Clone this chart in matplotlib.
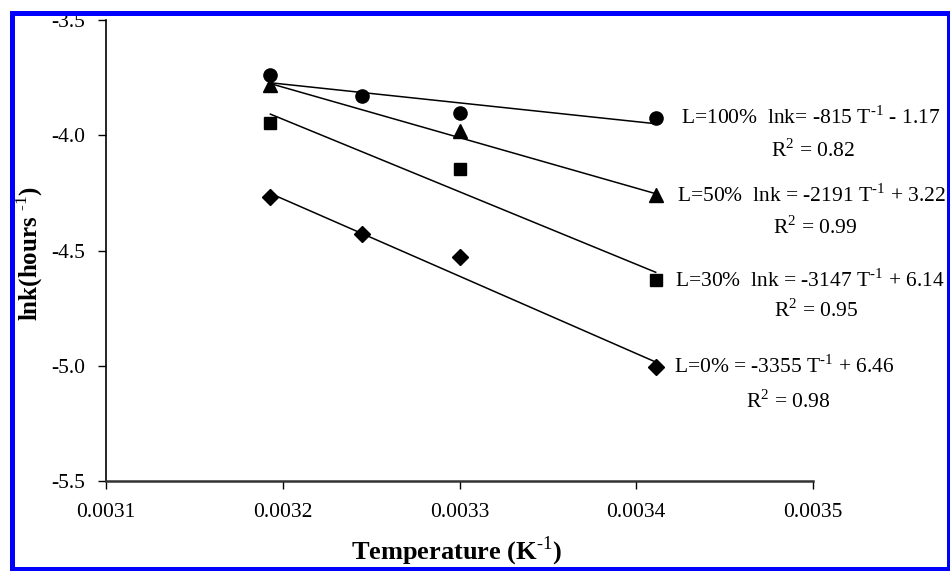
import matplotlib.pyplot as plt
from matplotlib.patches import Rectangle

plt.rcParams['font.family'] = ['Liberation Serif', 'DejaVu Serif']
plt.rcParams['mathtext.fontset'] = 'custom'
plt.rcParams['mathtext.rm'] = 'Liberation Serif'
plt.rcParams['mathtext.bf'] = 'Liberation Serif:bold'

# 1/T values (K^-1)
x_l100 = [0.003193, 0.003245, 0.003300, 0.003411]
y_l100 = [-3.74, -3.83, -3.905, -3.925]
x_l50 = [0.003193, 0.003300, 0.003411]
y_l50 = [-3.78, -3.98, -4.26]
x_l30 = [0.003193, 0.003300, 0.003411]
y_l30 = [-3.945, -4.145, -4.63]
x_l0 = [0.003193, 0.003245, 0.003300, 0.003411]
y_l0 = [-4.27, -4.43, -4.53, -5.005]

# trend line coefficients (slope, intercept) from the labels
fit_l100 = (-815, -1.17)
fit_l50 = (-2191, 3.22)
fit_l30 = (-3147, 6.14)
fit_l0 = (-3355, 6.46)

labels = ['L=100%  lnk= -815 T$^{\\text{-1}}$ - 1.17',
          'L=50%  lnk = -2191 T$^{\\text{-1}}$ + 3.22',
          'L=30%  lnk = -3147 T$^{\\text{-1}}$ + 6.14',
          'L=0% = -3355 T$^{\\text{-1}}$ + 6.46']
r2_labels = ['R$^2$ = 0.82', 'R$^2$ = 0.99', 'R$^2$ = 0.95', 'R$^2$ = 0.98']

fig = plt.figure(figsize=(9.5, 5.71), dpi=100)
ax = fig.add_axes([106 / 950, 1 - 481 / 571, (813 - 106) / 950, (481 - 20) / 571])

series = [(x_l100, y_l100, fit_l100, 'o', 9.5),
          (x_l50, y_l50, fit_l50, '^', 10),
          (x_l30, y_l30, fit_l30, 's', 9),
          (x_l0, y_l0, fit_l0, 'D', 8)]
label_dx = [25, 21, 19, 18]
r2_offsets = [(115, -33), (117, -32), (118, -30), (90, -35)]

for i, (xs, ys, fit, m, ms) in enumerate(series):
    ax.plot(xs, ys, linestyle='none', marker=m, markersize=ms, color='black',
            clip_on=False)
    xl = [xs[0], xs[-1]]
    yl = [fit[0] * v + fit[1] for v in xl]
    ax.plot(xl, yl, color='black', lw=1.1)
    ax.annotate(labels[i], (xs[-1], ys[-1]), xytext=(label_dx[i], 0),
                textcoords='offset pixels', va='center', ha='left', fontsize=15.5,
                annotation_clip=False)
    ax.annotate(r2_labels[i], (xs[-1], ys[-1]), xytext=r2_offsets[i],
                textcoords='offset pixels', va='center', ha='left', fontsize=15.5,
                annotation_clip=False)

ax.set_xlim(0.0031, 0.0035)
ax.set_ylim(-5.5, -3.5)
ax.set_xticks([0.0031, 0.0032, 0.0033, 0.0034, 0.0035])
ax.set_xticklabels(['0.0031', '0.0032', '0.0033', '0.0034', '0.0035'])
ax.set_yticks([-5.5, -5.0, -4.5, -4.0, -3.5])
ax.set_yticklabels(['-5.5', '-5.0', '-4.5', '-4.0', '-3.5'])
ax.tick_params(axis='x', direction='out', length=6, width=1, pad=10, labelsize=15.5)
ax.tick_params(axis='y', direction='out', length=6, width=1, pad=9, labelsize=15.5)
ax.spines['top'].set_visible(False)
ax.spines['right'].set_visible(False)
ax.spines['left'].set_linewidth(1.2)
ax.spines['bottom'].set_linewidth(1.8)
ax.spines['bottom'].set_color('#333333')

fig.text(457 / 950, 1 - 551 / 571, 'Temperature (K$^{\\text{-1}}$)', fontsize=19,
         fontweight='bold', ha='center', va='center')
fig.text(30 / 950, 1 - 253 / 571, 'lnk(hours $^{\\text{-1}}$)', fontsize=18,
         fontweight='bold', ha='center', va='center', rotation=90)

fig.patches.append(Rectangle((11.5 / 950, 2 / 571), (949 - 11.5) / 950, (558.5 - 2) / 571,
                             transform=fig.transFigure, fill=False,
                             edgecolor='#0000ff', linewidth=3.6))

fig.savefig('out.png', dpi=100)
